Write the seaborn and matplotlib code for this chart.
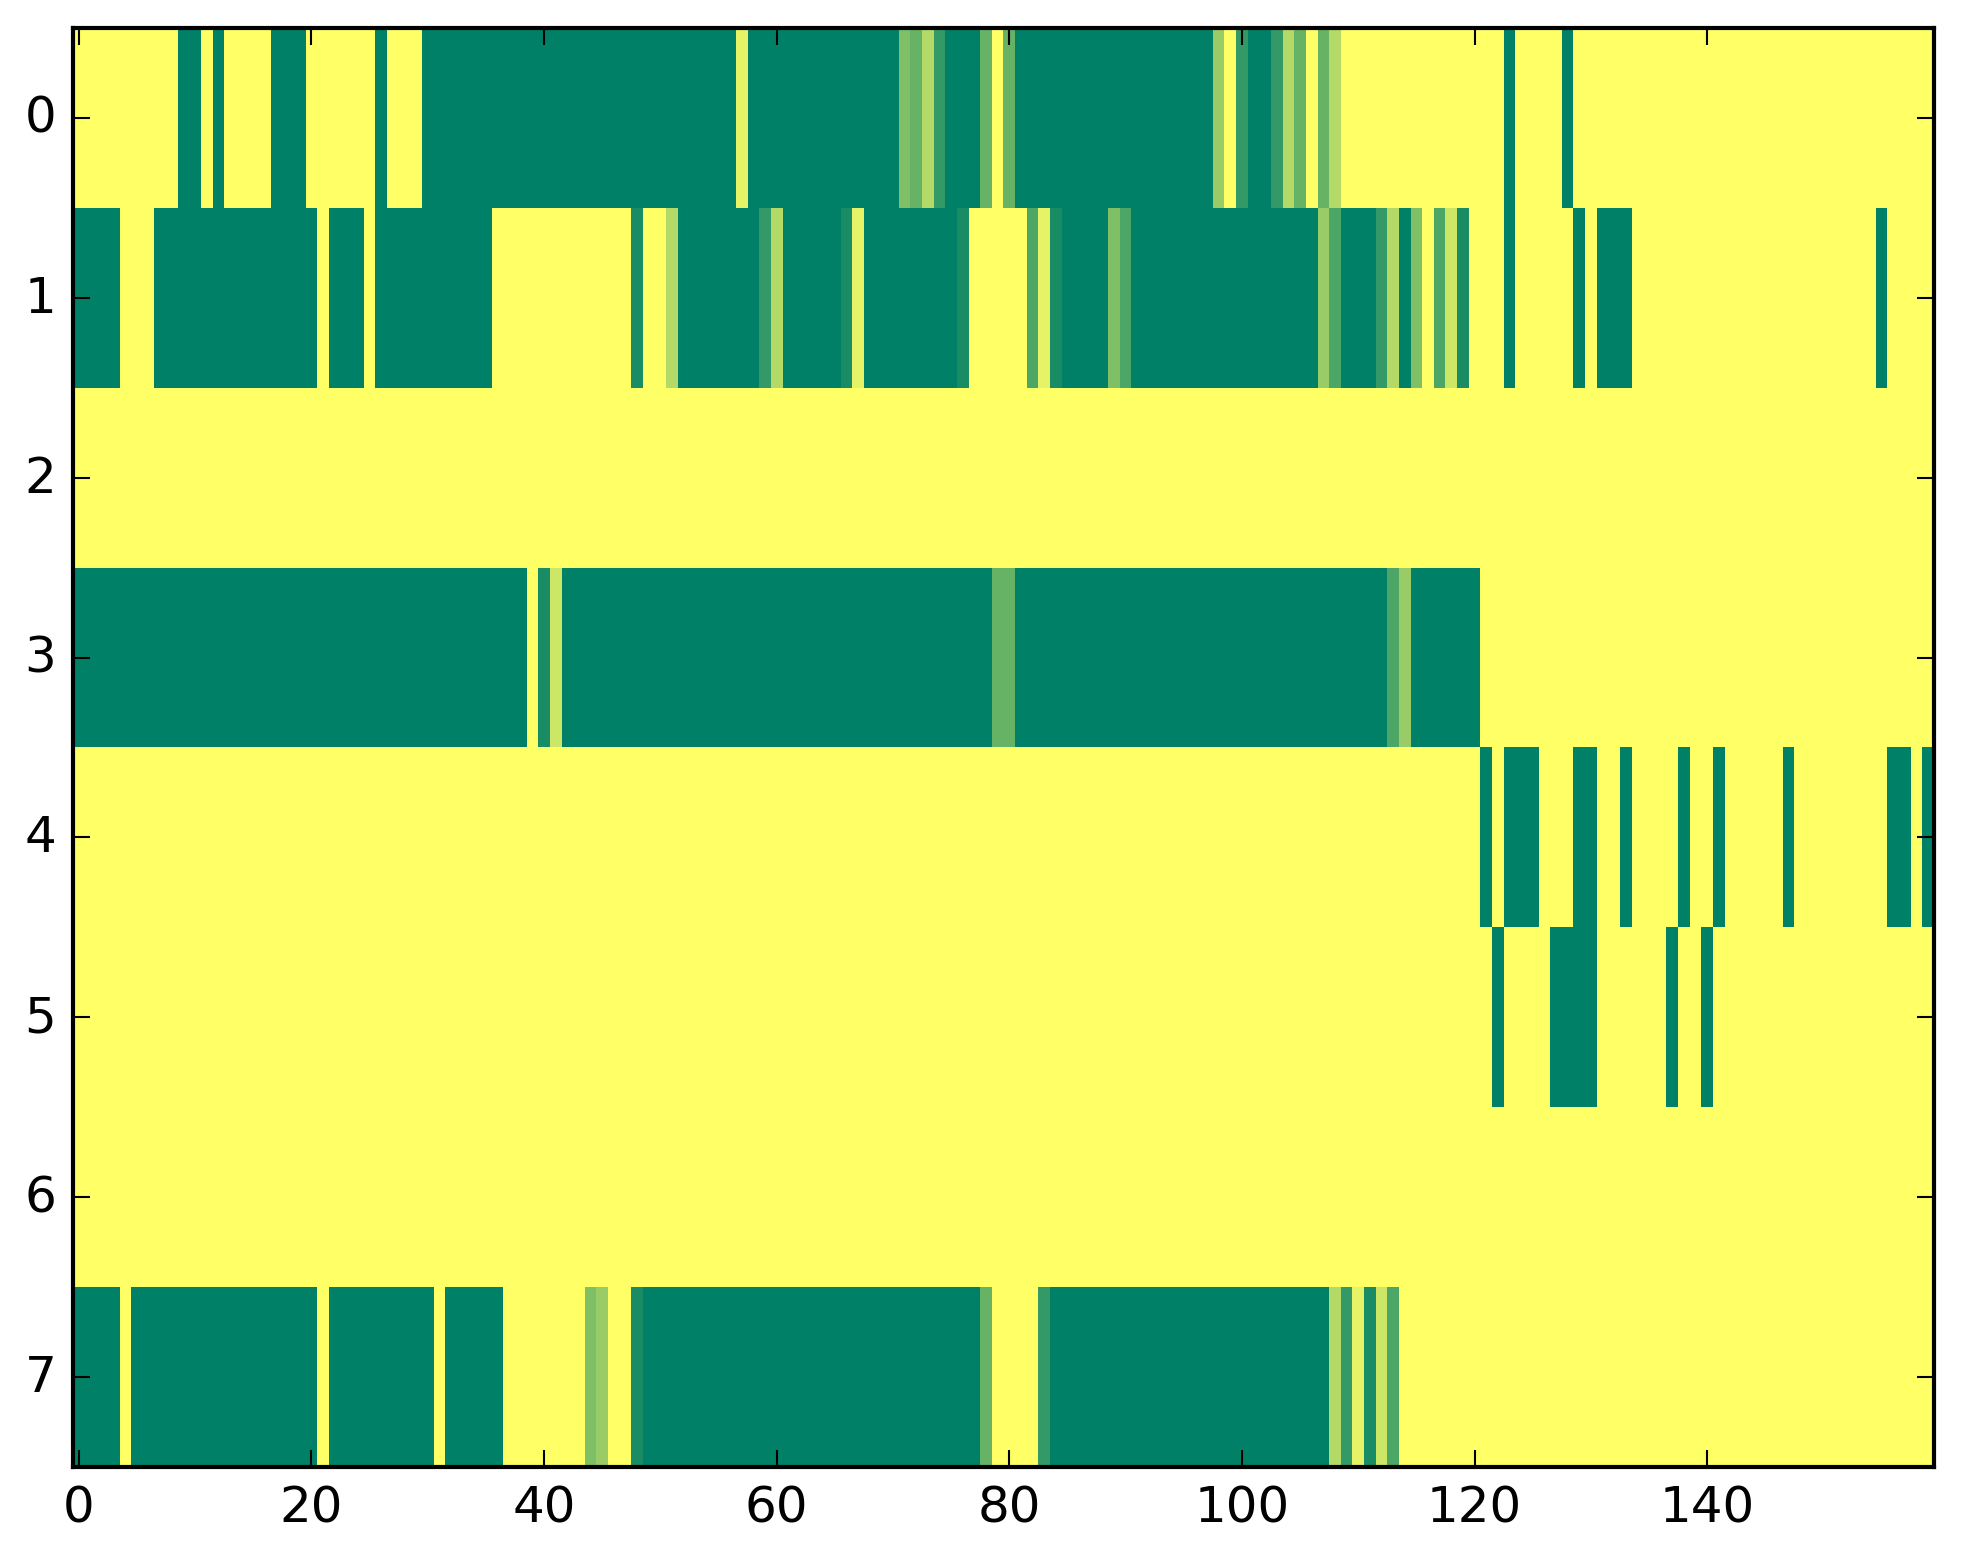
import numpy as np
import matplotlib
matplotlib.use("Agg")
import matplotlib.pyplot as plt
import seaborn as sns

# one character per cell, 160 cells per row
# "." = 0, "#" = 1, digit d = d/10
row0 = (
    ".........#" "#.#....###" "......#..." "##########"
    "##########" "#######1##" "##########" "#5638###6."
    "6#########" "########4." "8##836.63." ".........."
    "...#....#." ".........." ".........." ".........."
)
row1 = (
    "####...###" "##########" "#.###.####" "######...."
    "........9." ".3#######8" "3#####91##" "######9..."
    "..719####5" "7#########" "#######47#" "##83#5.729"
    "...#.....#" ".###......" ".........." ".....#...."
)
row2 = (
    ".........." ".........." ".........." ".........."
    ".........." ".........." ".........." ".........."
    ".........." ".........." ".........." ".........."
    ".........." ".........." ".........." ".........."
)
row3 = (
    "##########" "##########" "##########" "#########."
    "92########" "##########" "##########" "#########6"
    "6#########" "##########" "##########" "###74#####"
    "#........." ".........." ".........." ".........."
)
row4 = (
    ".........." ".........." ".........." ".........."
    ".........." ".........." ".........." ".........."
    ".........." ".........." ".........." ".........."
    ".#.###...#" "#..#....#." ".#.....#.." "......##.#"
)
row5 = (
    ".........." ".........." ".........." ".........."
    ".........." ".........." ".........." ".........."
    ".........." ".........." ".........." ".........."
    "..#....###" "#......#.." "#........." ".........."
)
row6 = (
    ".........." ".........." ".........." ".........."
    ".........." ".........." ".........." ".........."
    ".........." ".........." ".........." ".........."
    ".........." ".........." ".........." ".........."
)
row7 = (
    "####.#####" "##########" "#.########" "#.#####..."
    "....54..9#" "##########" "##########" "########6."
    "...8######" "##########" "########38" "1927......"
    ".........." ".........." ".........." ".........."
)
rows = [row0, row1, row2, row3, row4, row5, row6, row7]
x_ticks = [0, 20, 40, 60, 80, 100, 120, 140]
y_ticks = [0, 1, 2, 3, 4, 5, 6, 7]

LEVELS = {".": 0.0, "#": 1.0}
LEVELS.update({str(d): d / 10 for d in range(1, 10)})

matrix = np.array([[LEVELS[ch] for ch in r] for r in rows])

fig = plt.figure(figsize=(1963 / 300, 1564 / 300), dpi=300)
ax = fig.add_axes([0.0372, 0.0614, 0.948, 0.9201])
sns.heatmap(matrix, cmap="summer_r", vmin=0, vmax=1, cbar=False, ax=ax)

for s in ax.spines.values():
    s.set_visible(True)
    s.set_linewidth(1.0)
    s.set_color("black")

ax.set_xticks(np.array(x_ticks) + 0.5)
ax.set_xticklabels([str(t) for t in x_ticks], rotation=0)
ax.set_yticks(np.array(y_ticks) + 0.5)
ax.set_yticklabels([str(t) for t in y_ticks], rotation=0)
ax.tick_params(direction="in", top=True, right=True, length=4, width=0.5,
               labelsize=12, pad=4)

fig.savefig("out.png", dpi=300)
